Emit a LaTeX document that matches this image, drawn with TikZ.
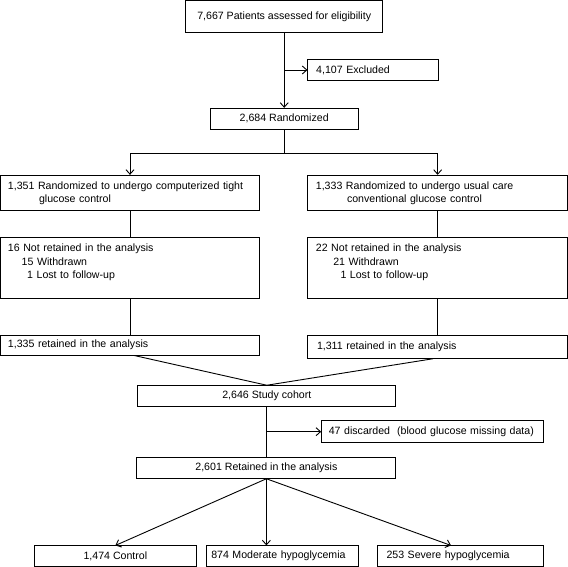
\documentclass[tikz,border=0pt]{standalone}
\usepackage{fontspec}
\setmainfont{Liberation Sans}
\usetikzlibrary{arrows.meta}
\newcommand{\hsp}[1]{\hspace*{#1pt}}

\begin{document}
\begin{tikzpicture}[x=1pt,y=-1pt,
  box/.style={draw,line width=0.9pt,inner sep=0pt,font=\fontsize{10.6}{13.3}\selectfont},
  lbox/.style={box,align=left},
  line/.style={line width=0.9pt},
  >={Straight Barb[length=4.5pt,width=8pt]}]
\useasboundingbox (0,0) rectangle (568,567);

\node[box,minimum width=197pt,minimum height=31.8pt] (1) at (284.2,16.4) {7,667 Patients assessed for eligibility};

\node[lbox,text width=130.4pt,minimum height=21.4pt] (2) at (373.1,70) {\hsp{8.3}4,107 Excluded};

\node[box,minimum width=148.5pt,minimum height=21pt] (3) at (284.2,118.8) {2,684 Randomized};

\node[lbox,text width=258.8pt,minimum height=35.4pt] (4) at (130,193) {\hsp{7.4}1,351 Randomized to undergo computerized tight\\ \hsp{38.5}glucose control};

\node[lbox,text width=259.5pt,minimum height=35.4pt] (5) at (437.65,193) {\hsp{8}1,333 Randomized to undergo usual care\\ \hsp{39.1}conventional glucose control};

\node[lbox,text width=258.8pt,minimum height=60.6pt] (6) at (130,268) {\hsp{7.4}16 Not retained in the analysis\\ \hsp{21.1}15 Withdrawn\\ \hsp{26.6}1 Lost to follow-up\\ ~};

\node[lbox,text width=259.5pt,minimum height=60.6pt] (7) at (437.65,268) {\hsp{8}22 Not retained in the analysis\\ \hsp{25.4}21 Withdrawn\\ \hsp{32.6}1 Lost to follow-up\\ ~};

\node[lbox,text width=258.8pt,minimum height=20pt] (8) at (130,345) {\hsp{7.4}1,335 retained in the analysis};

\node[lbox,text width=259.5pt,minimum height=22.6pt] (9) at (437.65,347) {\hsp{9.1}1,311 retained in the analysis};

\node[box,minimum width=258.2pt,minimum height=21pt] (10) at (266.8,396.2) {2,646 Study cohort};

\node[lbox,text width=221.7pt,minimum height=22pt] (11) at (432.5,431.7) {\hsp{7.2}47 discarded~ (blood glucose missing data)};

\node[box,minimum width=259pt,minimum height=21pt] (12) at (266.4,467.8) {2,601 Retained in the analysis};

\node[box,minimum width=161.9pt,minimum height=20.4pt] (13) at (115.4,556.1) {1,474 Control};

\node[lbox,text width=152.1pt,minimum height=20.4pt] (14) at (282.6,556.1) {\hsp{4.7}874 Moderate hypoglycemia};

\node[lbox,text width=165.6pt,minimum height=20.4pt] (15) at (460.6,556.1) {\hsp{8.7}253 Severe hypoglycemia};

\coordinate (split) at (284.2,153.3);

\draw[->,line] (1) -- (3);
\draw[->,line] (1.south |- 2.west) -- (2.west);
\draw[line] (3) -- (split);
\draw[->,line] (split) -| (4);
\draw[->,line] (split) -| (5);
\draw[line] (4) -- (6);
\draw[line] (5) -- (7);
\draw[line] (6) -- (8);
\draw[line] (7) -- (9);
\draw[line] ([xshift=4pt]8.south) -- (10.north);
\draw[line] ([xshift=-4.7pt]9.south) -- (10.north);
\draw[line] (10.south) -- (10.south |- 12.north);
\draw[->,line] (10.south |- 11.west) -- (11.west);
\draw[->,line] (12.south) -- (13.north);
\draw[->,line] (12.south) -- (12.south |- 14.north);
\draw[->,line] (12.south) -- ([xshift=-9.6pt]15.north);

\end{tikzpicture}
\end{document}
